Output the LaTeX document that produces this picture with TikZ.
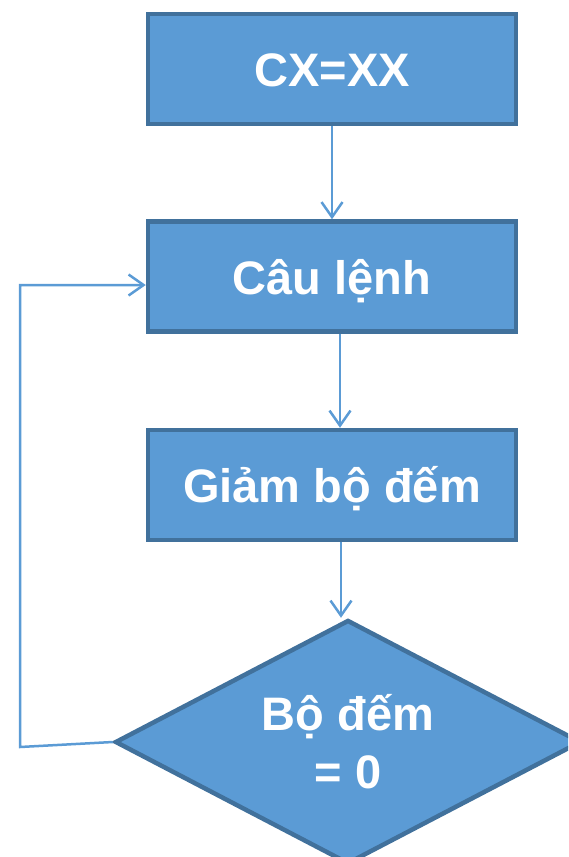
\documentclass[tikz,border=0pt]{standalone}
\usepackage{fontspec}
\setmainfont{Liberation Sans}
\usetikzlibrary{shapes.geometric,arrows.meta}
\definecolor{boxfill}{HTML}{5B9BD5}
\definecolor{boxline}{HTML}{41719C}
\definecolor{arrowc}{HTML}{5B9BD5}
\tikzset{
  flowbox/.style={draw=boxline, fill=boxfill, line width=4.5pt, minimum width=368pt, minimum height=110pt, inner sep=0pt,
    text height=35pt, text depth=0pt,
    text=white, font=\fontsize{47}{58}\selectfont\bfseries},
  decision/.style={diamond, draw=boxline, fill=boxfill, line width=4.5pt, minimum width=466pt, minimum height=244pt, aspect=1.9,
    inner sep=0pt, text=white, align=center, font=\fontsize{47}{58}\selectfont\bfseries},
  conn/.style={draw=arrowc, line width=2.5pt, -{Straight Barb[length=15pt,width=21pt,line width=2.5pt]}},
}
\begin{document}
\begin{tikzpicture}[x=1pt,y=-1pt]
\useasboundingbox (0,0) rectangle (568,857);
\clip (0,0) rectangle (568,857);
\node[flowbox] (b1) at (332,69) {CX=XX};
\node[flowbox] (b2) at (332,276.5) {Câu lệnh};
\node[flowbox] (b3) at (332,485) {Giảm bộ đếm};
\node[decision] (d) at (348,742) {Bộ đếm\\= 0};
\coordinate (lb) at (20,747);
\coordinate (lt) at (20,285);
\draw[conn] (b1.south) -- (b2.north);
\draw[conn] ([xshift=8pt]b2.south) -- ([xshift=8pt]b3.north);
\draw[conn] ([xshift=-7pt]b3.south -| d.north) -- ([xshift=-7pt]d.north);
\draw[conn] (d.west) -- (lb) -- (lt) -- (lt -| b2.west);
\end{tikzpicture}
\end{document}
